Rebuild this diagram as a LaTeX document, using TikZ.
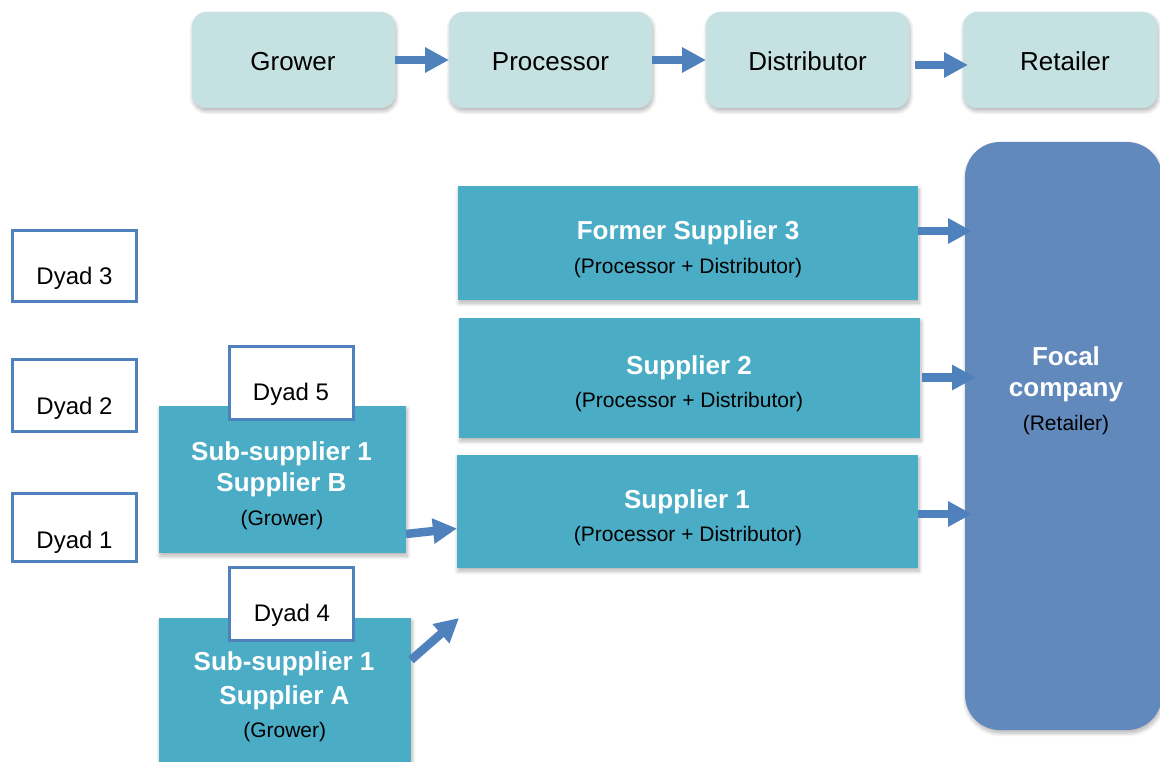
\documentclass[tikz,border=0pt]{standalone}
\usepackage{fontspec}
\setmainfont{Liberation Sans}
\usetikzlibrary{arrows.meta,calc,shadows.blur}
\definecolor{stagefill}{HTML}{C6E1E2}
\definecolor{tealfill}{HTML}{4BACC6}
\definecolor{focalfill}{HTML}{6289BC}
\definecolor{flowblue}{HTML}{4F81BD}
\begin{document}
\begin{tikzpicture}[x=1pt,y=-1pt,
  softshadow/.style={blur shadow={shadow xshift=1pt,shadow yshift=-3pt,
      shadow blur radius=4pt,shadow blur steps=8,shadow opacity=30}},
  stagebox/.style={rounded corners=14pt,fill=stagefill,draw=none,inner sep=0pt,
      outer sep=0pt,minimum height=96pt,softshadow},
  tealbox/.style={fill=tealfill,draw=none,inner sep=0pt,outer sep=0pt,softshadow},
  focalbox/.style={rounded corners=35pt,fill=focalfill,draw=none,inner sep=0pt,
      outer sep=0pt,softshadow},
  dyadbox/.style={draw=flowblue,line width=3pt,fill=white,inner sep=0pt,outer sep=0pt,
      minimum width=124pt},
  stagetxt/.style={anchor=base,inner sep=0pt,font=\fontsize{26}{31}\selectfont},
  headtxt/.style={anchor=base,inner sep=0pt,text=white,font=\fontsize{26}{31}\selectfont\bfseries},
  roletxt/.style={anchor=base,inner sep=0pt,font=\fontsize{21}{25}\selectfont},
  dyadtxt/.style={anchor=base,inner sep=0pt,font=\fontsize{24}{29}\selectfont},
  flow/.style={draw=flowblue,line width=8.5pt,-{Triangle[width=24pt,length=24pt]}},
]
\useasboundingbox (0,0) rectangle (1160,762);

% supply chain stages
\node[stagebox,minimum width=203pt] (grower)      at (293.5,60) {};
\node[stagebox,minimum width=203pt] (processor)   at (550.5,60) {};
\node[stagebox,minimum width=203pt] (distributor) at (807.5,60) {};
\node[stagebox,minimum width=194pt] (retailer)    at (1060,60) {};
\node[stagetxt] (growert)      at (293,70.5)  {Grower};
\node[stagetxt] (processort)   at (550.5,70.5) {Processor};
\node[stagetxt] (distributort) at (807.5,70.5) {Distributor};
\node[stagetxt] (retailert)    at (1065,70.5) {Retailer};

\draw[flow] (grower) -- (processor);
\draw[flow] (processor) -- (distributor);
\draw[flow] ($(distributor.east)+(6,5)$) -- ($(retailer.west)+(5,5)$);

% focal company
\node[focalbox,minimum width=197pt,minimum height=588pt] (focal) at (1063.5,436) {};
\node[headtxt] (focalt1) at (1066,365) {Focal};
\node[headtxt] (focalt2) at (1066,396.5) {company};
\node[roletxt] (focalt3) at (1066,430) {(Retailer)};

% first tier suppliers
\node[tealbox,minimum width=460pt,minimum height=114pt] (fs3)  at (688,243) {};
\node[tealbox,minimum width=461pt,minimum height=120pt] (sup2) at (689.5,378) {};
\node[tealbox,minimum width=461pt,minimum height=113pt] (sup1) at (687.5,511.5) {};
\node[headtxt] (fs3t1)  at (688,240)   {Former Supplier 3};
\node[roletxt] (fs3t2)  at (688,273.5) {(Processor + Distributor)};
\node[headtxt] (sup2t1) at (689,374.3) {Supplier 2};
\node[roletxt] (sup2t2) at (689,407.7) {(Processor + Distributor)};
\node[headtxt] (sup1t1) at (687,508.3) {Supplier 1};
\node[roletxt] (sup1t2) at (688,541.7) {(Processor + Distributor)};

\draw[flow] ($(fs3.east)+(0,-12)$) -- ($(fs3.east -| focal.west)+(7,-12)$);
\draw[flow] ($(sup2.east)+(2,-0.5)$) -- ($(sup2.east -| focal.west)+(11,-0.5)$);
\draw[flow] ($(sup1.east)+(0,2.5)$) -- ($(sup1.east -| focal.west)+(7,2.5)$);

% second tier suppliers
\node[tealbox,minimum width=247pt,minimum height=147pt] (subB) at (282.5,479.5) {};
\node[tealbox,minimum width=252pt,minimum height=152pt] (subA) at (285,694) {};
\node[headtxt] (subBt1) at (281.5,460)   {Sub-supplier 1};
\node[headtxt] (subBt2) at (281.5,491.7) {Supplier B};
\node[roletxt] (subBt3) at (282,525)     {(Grower)};
\node[headtxt] (subAt1) at (284,670.7)   {Sub-supplier 1};
\node[headtxt] (subAt2) at (284.5,704.3) {Supplier A};
\node[roletxt] (subAt3) at (284.7,737.7) {(Grower)};

\draw[flow] ($(subB.south east)+(0,-19)$) -- ($(sup1.west)+(0,17)$);
\draw[flow] ($(subA.east)+(0,-34)$) -- ($(sup1.south west)+(2,50)$);

% dyad markers
\node[dyadbox,minimum height=71pt] (dyad3) at (74.5,266) {};
\node[dyadbox,minimum height=72pt] (dyad2) at (74.5,395.5) {};
\node[dyadbox,minimum height=68pt] (dyad1) at (74.5,527.5) {};
\node[dyadbox,minimum height=73pt] (dyad5) at (291.5,383) {};
\node[dyadbox,minimum height=73pt] (dyad4) at (291.5,604) {};
\node[dyadtxt] (dyad3t) at (74.5,285)   {Dyad 3};
\node[dyadtxt] (dyad2t) at (74.5,414)   {Dyad 2};
\node[dyadtxt] (dyad1t) at (74.5,548.3) {Dyad 1};
\node[dyadtxt] (dyad5t) at (291,400)    {Dyad 5};
\node[dyadtxt] (dyad4t) at (292,621.7)  {Dyad 4};
\end{tikzpicture}
\end{document}
